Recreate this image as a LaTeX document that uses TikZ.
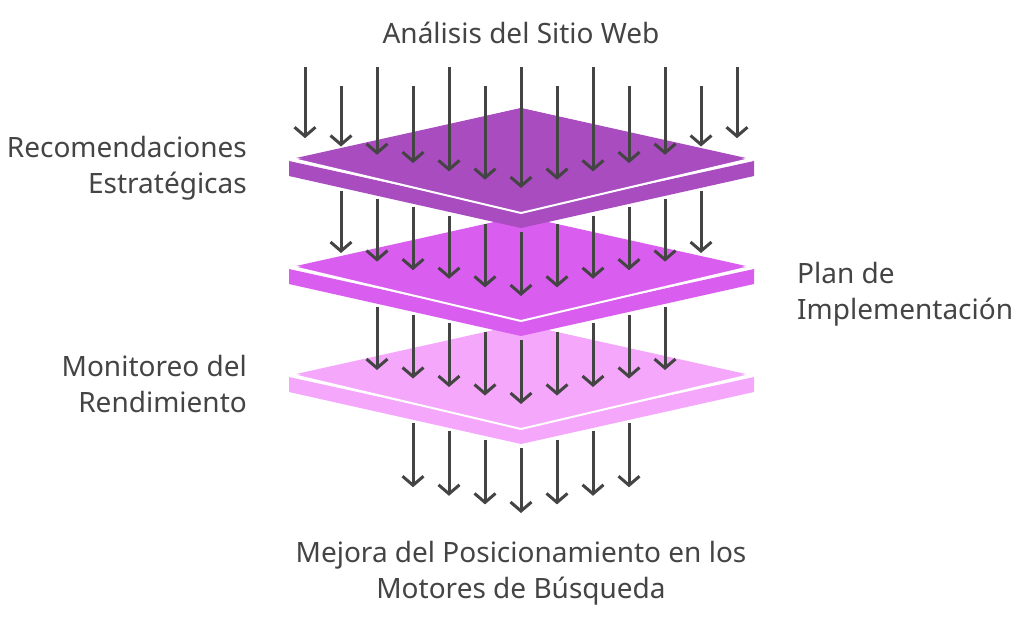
\documentclass[tikz,border=0pt]{standalone}
\usepackage{fontspec}
\setmainfont{Noto Sans}
\usetikzlibrary{arrows.meta}
\definecolor{txt}{HTML}{444444}
\definecolor{pA}{HTML}{A84CC0}
\definecolor{pB}{HTML}{D95EEF}
\definecolor{pC}{HTML}{F5A8FB}
\tikzset{
  arr/.style={draw=txt,line width=3pt,-{Straight Barb[length=9pt,width=21pt,line width=3pt]}},
  lbl/.style={text=txt,font=\fontsize{28}{36}\selectfont,inner sep=0pt},
}
\newcommand{\plate}[2]{%
  \fill[#2] (289,#1+54) -- (521,#1+105) -- (754,#1+54) -- (754,#1+69) -- (521,#1+121) -- (289,#1+69) -- cycle;
  \filldraw[fill=#2,draw=white,line width=2pt] (521,#1) -- (293,#1+52) -- (521,#1+106) -- (750,#1+52) -- cycle;
  \fill[#2] (521,#1+1) -- (296,#1+51) -- (746,#1+51) -- cycle;
}
\newcommand{\arrrow}[5]{% kmax, start0, startstep, end0, endstep
  \foreach \k in {-#1,...,#1}{
    \pgfmathsetmacro{\ak}{abs(\k)}
    \pgfmathsetmacro{\sy}{#2-#3*\ak}
    \pgfmathsetmacro{\ey}{#4-#5*\ak}
    \coordinate (s) at (521+36*\k,\sy);
    \coordinate (e) at (521+36*\k,\ey);
    \draw[arr] (s) -- (e);
  }}
\begin{document}
\begin{tikzpicture}[x=1pt,y=-1pt]
\useasboundingbox (0,0) rectangle (1024,619);
\arrrow{3}{448}{8.3}{513}{8.6}
\plate{323}{pC}
\arrrow{4}{340}{8.3}{404}{8.5}
\plate{215}{pB}
\arrrow{5}{232}{8.2}{296}{8.6}
\plate{107}{pA}
\foreach \k in {-6,...,6}{
  \pgfmathsetmacro{\st}{ifthenelse(mod(abs(\k),2)==0,67,86)}
  \pgfmathsetmacro{\ey}{188-8.3*abs(\k)}
  \coordinate (s) at (521+36*\k,\st);
  \coordinate (e) at (521+36*\k,\ey);
  \draw[arr] (s) -- (e);
}
\node[lbl] (t1) at (521,33) {Análisis del Sitio Web};
\node[lbl,anchor=east,align=right] (t2) at (247,168) {Recomendaciones\\Estratégicas};
\node[lbl,anchor=west,align=left] (t3) at (797,294) {Plan de\\Implementación};
\node[lbl,anchor=east,align=right] (t4) at (247,384) {Monitoreo del\\Rendimiento};
\node[lbl,align=center] (t5) at (521,573) {Mejora del Posicionamiento en los\\Motores de Búsqueda};
\end{tikzpicture}
\end{document}
